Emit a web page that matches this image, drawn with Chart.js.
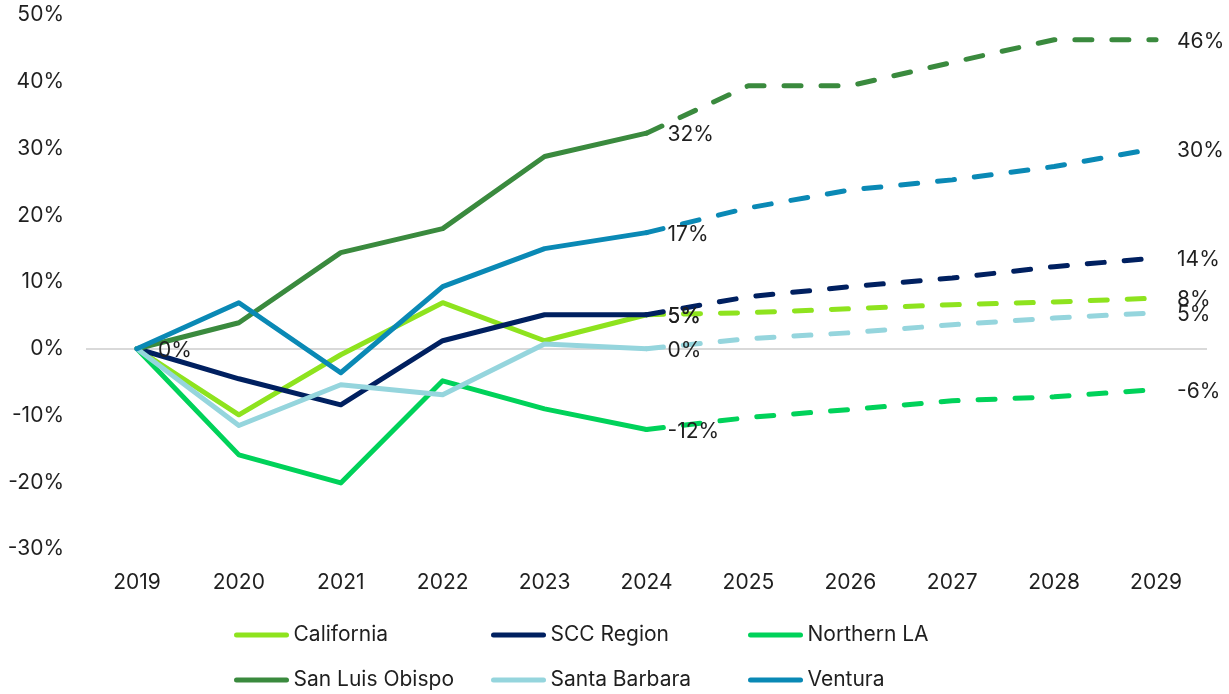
<!DOCTYPE html>
<html>
<head>
<meta charset="utf-8">
<script src="https://cdn.jsdelivr.net/npm/chart.js@4/dist/chart.umd.min.js"></script>
<style>
  html, body { margin: 0; padding: 0; background: #fff; }
</style>
</head>
<body>
<canvas id="js--chart--growth" width="1229" height="694"></canvas>
<script>
// categories + series (% change since 2019), 2025-2029 are projections
const years = ["2019", "2020", "2021", "2022", "2023", "2024", "2025", "2026", "2027", "2028", "2029"];

const california    = [0, -9.9, -0.9, 6.9, 1.2, 5.1, 5.4, 6.0, 6.6, 7.0, 7.6];
const sccRegion     = [0, -4.5, -8.4, 1.2, 5.1, 5.1, 7.8, 9.3, 10.6, 12.3, 13.6];
const northernLA    = [0, -15.9, -20.1, -4.8, -9.0, -12.1, -10.3, -9.1, -7.8, -7.2, -6.1];
const sanLuisObispo = [0, 3.9, 14.4, 18.0, 28.8, 32.3, 39.4, 39.4, 42.9, 46.3, 46.3];
const santaBarbara  = [0, -11.5, -5.4, -6.9, 0.7, 0.0, 1.5, 2.4, 3.6, 4.6, 5.4];
const ventura       = [0, 6.9, -3.6, 9.3, 15.0, 17.4, 21.1, 23.8, 25.3, 27.3, 30.0];

const yTicks = [-30, -20, -10, 0, 10, 20, 30, 40, 50];
const lastActual = 5; // index of 2024, dashed after that

const fontName = 'Inter, "Open Sans", sans-serif';
const fontSize = 21;
const textColor = '#1f1f1f';

function serie(label, values, color, order) {
    return {
        label: label,
        data: values,
        borderColor: color,
        backgroundColor: color,
        borderWidth: 5,
        borderCapStyle: 'round',
        borderJoinStyle: 'round',
        pointRadius: 0,
        pointHoverRadius: 0,
        tension: 0,
        order: order,
        segment: {
            borderDash: ctx => ctx.p0DataIndex >= lastActual ? [17, 20] : undefined
        }
    };
}

const data = {
    labels: years,
    datasets: [
        serie('California', california, '#8ee31e', 5),
        serie('SCC Region', sccRegion, '#002060', 4),
        serie('Northern LA', northernLA, '#00d25a', 3),
        serie('San Luis Obispo', sanLuisObispo, '#3a8a3e', 2),
        serie('Santa Barbara', santaBarbara, '#95d5dd', 1),
        serie('Ventura', ventura, '#0a89b5', 0)
    ]
};

// value labels at 2024 and 2029 (and the 0% at the start)
const valueLabels = {
    id: 'valueLabels',
    afterDatasetsDraw(chart) {
        const ctx = chart.ctx;
        ctx.save();
        ctx.font = fontSize + 'px ' + fontName;
        ctx.fillStyle = textColor;
        ctx.textBaseline = 'middle';
        ctx.textAlign = 'left';
        chart.data.datasets.forEach((ds, i) => {
            const meta = chart.getDatasetMeta(i);
            let idx = [lastActual, ds.data.length - 1];
            if (i === 0) idx = [0].concat(idx);
            idx.forEach(j => {
                const pt = meta.data[j];
                ctx.fillText(Math.round(ds.data[j]) + '%', pt.x + 21, pt.y + 2);
            });
        });
        ctx.restore();
    }
};

// legend in 3 fixed columns like the original
const gridLegend = {
    id: 'gridLegend',
    afterDraw(chart) {
        const ctx = chart.ctx;
        const colW = 257;
        const startX = chart.width / 2 - 381;
        const rows = [635, 680];
        ctx.save();
        ctx.font = fontSize + 'px ' + fontName;
        ctx.fillStyle = textColor;
        ctx.textBaseline = 'middle';
        chart.data.datasets.forEach((ds, i) => {
            const x = startX + (i % 3) * colW;
            const y = rows[Math.floor(i / 3)];
            ctx.beginPath();
            ctx.strokeStyle = ds.borderColor;
            ctx.lineWidth = 5;
            ctx.lineCap = 'round';
            ctx.moveTo(x + 3, y);
            ctx.lineTo(x + 53, y);
            ctx.stroke();
            ctx.fillText(ds.label, x + 60, y);
        });
        ctx.restore();
    }
};

const config = {
    type: 'line',
    data: data,
    options: {
        responsive: false,
        animation: false,
        layout: { padding: { top: 0, right: 22, bottom: 94, left: 0 } },
        plugins: {
            legend: { display: false },
            tooltip: { enabled: false }
        },
        scales: {
            x: {
                offset: true,
                grid: { display: false },
                border: { display: false },
                ticks: { color: textColor, font: { family: fontName, size: fontSize }, padding: 13, maxRotation: 0 },
                afterFit: scale => { scale.height = 51; }
            },
            y: {
                min: -30,
                max: 50,
                afterBuildTicks: scale => { scale.ticks = yTicks.map(v => ({ value: v })); },
                grid: {
                    drawTicks: false,
                    lineWidth: 2,
                    color: ctx => ctx.tick && ctx.tick.value === 0 ? '#d9d9d9' : 'rgba(0,0,0,0)'
                },
                border: { display: false },
                ticks: {
                    color: textColor,
                    font: { family: fontName, size: fontSize },
                    padding: 22,
                    callback: v => v + '%'
                },
                afterFit: scale => {
                    scale.width = 86;
                    scale.paddingTop = 15;
                    scale.paddingBottom = 0;
                }
            }
        }
    },
    plugins: [valueLabels, gridLegend]
};

new Chart(document.getElementById("js--chart--growth"), config);
</script>
</body>
</html>
